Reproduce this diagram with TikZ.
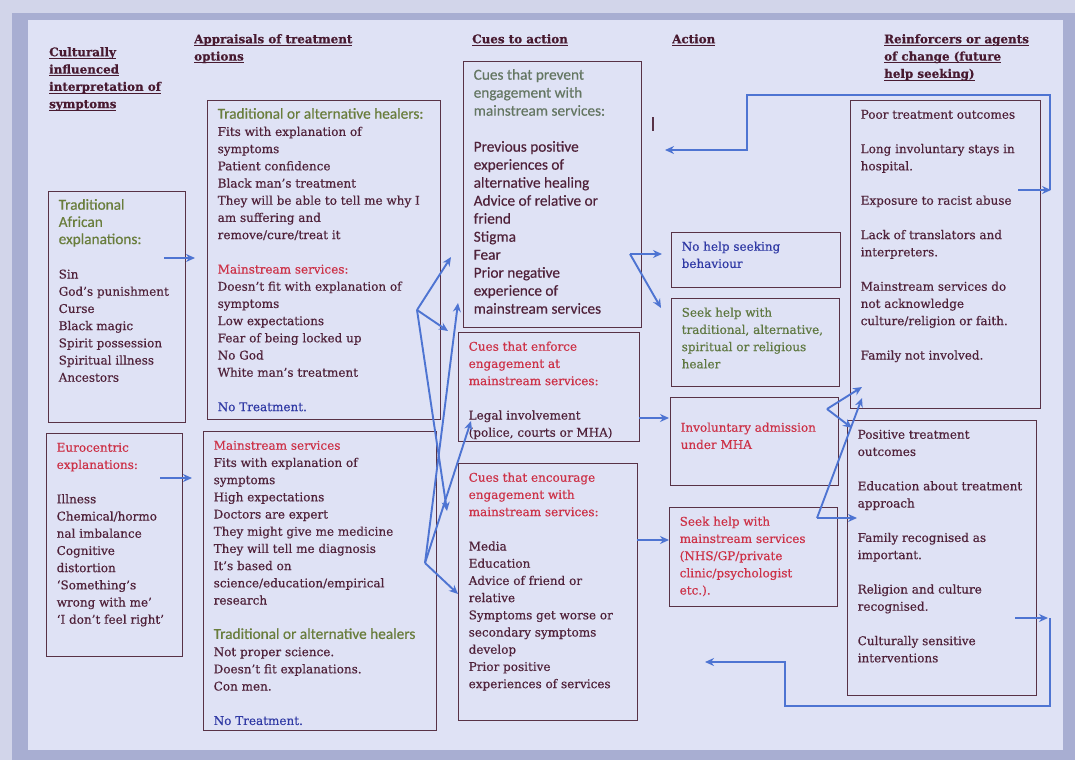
\documentclass[tikz,border=0pt]{standalone}
\usepackage{fontspec}
\setmainfont{DejaVu Serif}[FakeBold=0.5]
\newfontfamily\carlfont{Carlito}[FakeBold=0.4]
\usetikzlibrary{arrows.meta}
\definecolor{ink}{RGB}{80,34,58}
\definecolor{headc}{RGB}{72,26,48}
\definecolor{redt}{RGB}{205,50,72}
\definecolor{greent}{RGB}{105,125,60}
\definecolor{greenb}{RGB}{95,120,65}
\definecolor{cueg}{RGB}{100,118,98}
\definecolor{bluet}{RGB}{48,58,165}
\definecolor{arrc}{RGB}{78,116,210}
\definecolor{boxc}{RGB}{88,50,70}
\definecolor{bgc}{RGB}{223,226,245}
\definecolor{outc}{RGB}{210,213,234}
\definecolor{bandc}{RGB}{168,174,210}
\newcommand{\bxt}[4][18pt]{\parbox[c][#3][t]{#2}{\raggedright\fontsize{12}{17.2}\selectfont\rule{0pt}{#1}#4}}
\newcommand{\hul}[1]{\setbox0\hbox{#1}\rlap{\rule[-2.8pt]{\wd0}{1pt}}\box0}
\tikzset{
  box/.style={draw=boxc, line width=1.4pt, anchor=north west, inner xsep=10pt, inner ysep=0pt, text=ink},
  arr/.style={draw=arrc, line width=1.9pt, -{Stealth[length=9pt,width=8pt]}},
  head/.style={anchor=north west, inner sep=0pt, text=headc, align=left, font=\bfseries\fontsize{11.9}{17.3}\selectfont}
}
\begin{document}
\begin{tikzpicture}[x=1pt,y=-1pt]
\path[use as bounding box] (0,0) rectangle (1075,760);
\fill[outc] (0,0) rectangle (1075,760);
\fill[bandc] (12,13) rectangle (1075,760);
\fill[bgc] (28,20) rectangle (1063,750);

% headings
\node[head] (h1) at (49,47) {\hul{Culturally}\\\hul{influenced}\\\hul{interpretation of}\\\hul{symptoms}};
\node[head] (h2) at (194,34) {\hul{Appraisals of treatment}\\\hul{options}};
\node[head] (h3) at (472,34) {\hul{Cues to action}};
\node[head] (h4) at (672,34) {\hul{Action}};
\node[head] (h5) at (884,34) {\hul{Reinforcers or agents}\\\hul{of change (future}\\\hul{help seeking)}};

% column 1
\node[box] (trad) at (48,191) {\bxt{117pt}{231pt}{{\carlfont\fontsize{15.3}{17.2}\selectfont\color{greent}Traditional\\African\\explanations:}\\ ~\\ Sin\\God's punishment\\Curse\\Black magic\\Spirit possession\\Spiritual illness\\Ancestors}};
\node[box] (euro) at (46,433) {\bxt{116pt}{223pt}{{\color{redt}Eurocentric\\explanations:}\\ ~\\ Illness\\Chemical/hormo\\nal imbalance\\Cognitive\\distortion\\`Something's\\wrong with me'\\`I don't feel right'}};

% column 2
\node[box] (appA) at (207,100) {\bxt{213pt}{319pt}{{\carlfont\fontsize{15.3}{17.2}\selectfont\color{greent}Traditional or alternative healers:}\\Fits with explanation of\\symptoms\\Patient confidence\\Black man's treatment\\They will be able to tell me why I\\am suffering and\\remove/cure/treat it\\ ~\\ {\color{redt}Mainstream services:}\\Doesn't fit with explanation of\\symptoms\\Low expectations\\Fear of being locked up\\No God\\White man's treatment\\ ~\\ {\color{bluet}No Treatment.}}};
\node[box] (appB) at (203,431) {\bxt{213pt}{299pt}{{\color{redt}Mainstream services}\\Fits with explanation of\\symptoms\\High expectations\\Doctors are expert\\They might give me medicine\\They will tell me diagnosis\\It's based on\\science/education/empirical\\research\\ ~\\ {\carlfont\fontsize{15.3}{17.2}\selectfont\color{greent}Traditional or alternative healers}\\Not proper science.\\Doesn't fit explanations.\\Con men.\\ ~\\ {\color{bluet}No Treatment.}}};

% column 3
\node[box] (prev) at (463,61) {\bxt{158pt}{266pt}{\carlfont\fontsize{15.3}{18}\selectfont{\color{cueg}Cues that prevent\\engagement with\\mainstream services:}\\ ~\\ Previous positive\\experiences of\\alternative healing\\Advice of relative or\\friend\\Stigma\\Fear\\Prior negative\\experience of\\mainstream services}};
\node[box] (enf) at (458,332) {\bxt{161pt}{109pt}{{\color{redt}Cues that enforce\\engagement at\\mainstream services:}\\ ~\\ Legal involvement\\(police, courts or MHA)}};
\node[box] (enc) at (458,463) {\bxt{159pt}{257pt}{{\color{redt}Cues that encourage\\engagement with\\mainstream services:}\\ ~\\ Media\\Education\\Advice of friend or\\relative\\Symptoms get worse or\\secondary symptoms\\develop\\Prior positive\\experiences of services}};

% column 4
\node[box] (nohelp) at (671,232) {\bxt{149pt}{55pt}{\color{bluet}No help seeking\\behaviour}};
\node[box] (seektrad) at (671,298) {\bxt{148pt}{88pt}{\color{greenb}Seek help with\\traditional, alternative,\\spiritual or religious\\healer}};
\node[box] (invol) at (670,397) {\bxt[34pt]{148pt}{88pt}{\color{redt}Involuntary admission\\under MHA}};
\node[box] (seekmain) at (669,507) {\bxt{148pt}{99pt}{\color{redt}Seek help with\\mainstream services\\(NHS/GP/private\\clinic/psychologist\\etc.).}};

% column 5
\node[box] (reinA) at (850,100) {\bxt{170pt}{308pt}{Poor treatment outcomes\\ ~\\ Long involuntary stays in\\hospital.\\ ~\\ Exposure to racist abuse\\ ~\\ Lack of translators and\\interpreters.\\ ~\\ Mainstream services do\\not acknowledge\\culture/religion or faith.\\ ~\\ Family not involved.}};
\node[box] (reinB) at (847,420) {\bxt{169pt}{275pt}{Positive treatment\\outcomes\\ ~\\ Education about treatment\\approach\\ ~\\ Family recognised as\\important.\\ ~\\ Religion and culture\\recognised.\\ ~\\ Culturally sensitive\\interventions}};

% stray cursor mark
\draw[boxc, line width=1.3pt] (653,117) -- (653,131);

% connector points
\coordinate (t1) at (164,258);  \coordinate (t2) at (195,258);
\coordinate (e1) at (160,478);  \coordinate (e2) at (192,478);
\coordinate (A) at (417,310);
\coordinate (A1) at (451,257); \coordinate (A2) at (448,331); \coordinate (A3) at (447,511);
\coordinate (B) at (425,563);
\coordinate (B1) at (458,303); \coordinate (B2) at (471,421); \coordinate (B3) at (458,594);
\coordinate (C) at (630,254);
\coordinate (C1) at (662,254); \coordinate (C2) at (661,308);
\coordinate (f1) at (639,418); \coordinate (f2) at (669,418);
\coordinate (g1) at (637,540); \coordinate (g2) at (669,540);
\coordinate (E) at (827,409);
\coordinate (E1) at (862,387); \coordinate (E2) at (852,428);
\coordinate (D) at (817,518);
\coordinate (D1) at (862,398); \coordinate (D2) at (857,518);
\coordinate (r1) at (1018,190); \coordinate (r2) at (1051,190);
\coordinate (rt) at (1050,190); \coordinate (rk) at (747,95); \coordinate (rend) at (665,150);
\coordinate (s1) at (1015,618); \coordinate (s2) at (1048,618);
\coordinate (sb) at (1050,618); \coordinate (sc) at (785,706); \coordinate (send) at (705,662);

\draw[arr] (t1) -- (t2);
\draw[arr] (e1) -- (e2);
\draw[arr] (A) -- (A1);
\draw[arr] (A) -- (A2);
\draw[arr] (A) -- (A3);
\draw[arr] (B) -- (B1);
\draw[arr] (B) -- (B2);
\draw[arr] (B) -- (B3);
\draw[arr] (C) -- (C1);
\draw[arr] (C) -- (C2);
\draw[arr] (f1) -- (f2);
\draw[arr] (g1) -- (g2);
\draw[arr] (E) -- (E1);
\draw[arr] (E) -- (E2);
\draw[arr] (D) -- (D1);
\draw[arr] (D) -- (D2);
\draw[arr] (r1) -- (r2);
\draw[arr] (rt) |- (rk) |- (rend);
\draw[arr] (s1) -- (s2);
\draw[arr] (sb) |- (sc) |- (send);
\end{tikzpicture}
\end{document}
